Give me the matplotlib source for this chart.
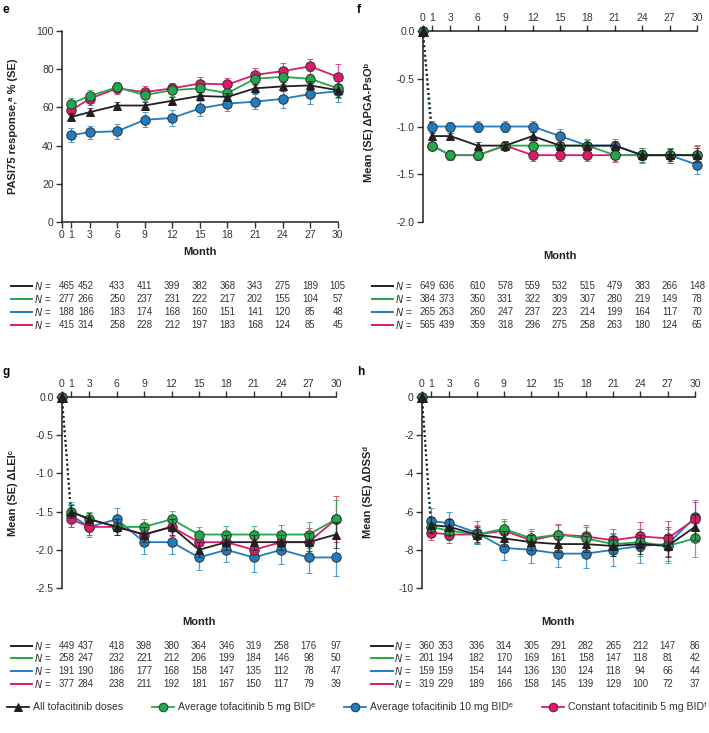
import numpy as np
import matplotlib
matplotlib.use("Agg")
import matplotlib.pyplot as plt
from matplotlib.lines import Line2D
import matplotlib.transforms as mtransforms

plt.rcParams['font.family'] = ['Liberation Sans', 'DejaVu Sans']
plt.rcParams['axes.unicode_minus'] = False

# Data
months = [1, 3, 6, 9, 12, 15, 18, 21, 24, 27, 30]
xticks = [0, 1, 3, 6, 9, 12, 15, 18, 21, 24, 27, 30]

series_names = ["All tofacitinib doses",
                "Average tofacitinib 5 mg BID\u1d49",
                "Average tofacitinib 10 mg BID\u1d49",
                "Constant tofacitinib 5 mg BID\u1da0"]
colors = ["#231f20", "#21a84a", "#1f7cc1", "#e0196b"]
markers = ["^", "o", "o", "o"]

# panel e: PASI75 response %
pasi_mean = [
    [55, 57.5, 61, 61, 63.5, 66, 65.5, 70, 71, 71.5, 69],
    [62, 66, 70.5, 66.5, 69, 70, 67.5, 75, 76, 75, 70],
    [45.5, 47, 47.5, 53.5, 54.5, 59.5, 62, 63, 64.5, 67, 68.5],
    [58.5, 64.5, 70, 68, 70, 72.5, 72, 77, 79, 81.5, 76],
]
pasi_se = [
    [2, 2, 2, 2, 2, 2, 2, 2.5, 2.5, 2.5, 3.5],
    [3, 3, 3, 3, 3, 3, 3, 3.5, 3.5, 4, 5],
    [3.5, 3.5, 4, 4, 4, 4, 4, 4, 5, 5, 5.5],
    [2.5, 3, 3, 3, 3, 3.5, 3.5, 3.5, 4, 4, 6.5],
]
pasi_n = [
    [465, 452, 433, 411, 399, 382, 368, 343, 275, 189, 105],
    [277, 266, 250, 237, 231, 222, 217, 202, 155, 104, 57],
    [188, 186, 183, 174, 168, 160, 151, 141, 120, 85, 48],
    [415, 314, 258, 228, 212, 197, 183, 168, 124, 85, 45],
]

# panel f: change in PGA-PsO
pga_mean = [
    [-1.1, -1.1, -1.2, -1.2, -1.1, -1.2, -1.2, -1.2, -1.3, -1.3, -1.3],
    [-1.2, -1.3, -1.3, -1.2, -1.2, -1.2, -1.2, -1.3, -1.3, -1.3, -1.3],
    [-1.0, -1.0, -1.0, -1.0, -1.0, -1.1, -1.2, -1.2, -1.3, -1.3, -1.4],
    [-1.2, -1.3, -1.3, -1.2, -1.3, -1.3, -1.3, -1.3, -1.3, -1.3, -1.3],
]
pga_se = [
    [0.03, 0.03, 0.04, 0.04, 0.04, 0.04, 0.04, 0.05, 0.05, 0.06, 0.07],
    [0.04, 0.05, 0.05, 0.05, 0.05, 0.06, 0.06, 0.06, 0.07, 0.08, 0.11],
    [0.06, 0.05, 0.06, 0.06, 0.06, 0.07, 0.07, 0.07, 0.08, 0.08, 0.1],
    [0.04, 0.05, 0.05, 0.05, 0.06, 0.06, 0.06, 0.07, 0.07, 0.08, 0.1],
]
pga_n = [
    [649, 636, 610, 578, 559, 532, 515, 479, 383, 266, 148],
    [384, 373, 350, 331, 322, 309, 307, 280, 219, 149, 78],
    [265, 263, 260, 247, 237, 223, 214, 199, 164, 117, 70],
    [565, 439, 359, 318, 296, 275, 258, 263, 180, 124, 65],
]

# panel g: change in LEI
lei_mean = [
    [-1.5, -1.6, -1.7, -1.8, -1.7, -2.0, -1.9, -1.9, -1.9, -1.9, -1.8],
    [-1.5, -1.6, -1.7, -1.7, -1.6, -1.8, -1.8, -1.8, -1.8, -1.8, -1.6],
    [-1.55, -1.7, -1.6, -1.9, -1.9, -2.1, -2.0, -2.1, -2.0, -2.1, -2.1],
    [-1.6, -1.7, -1.7, -1.8, -1.7, -1.9, -1.9, -2.0, -1.9, -1.9, -1.6],
]
lei_se = [
    [0.08, 0.08, 0.1, 0.1, 0.1, 0.1, 0.1, 0.1, 0.1, 0.12, 0.17],
    [0.12, 0.1, 0.1, 0.1, 0.11, 0.1, 0.11, 0.11, 0.12, 0.17, 0.25],
    [0.15, 0.13, 0.15, 0.15, 0.16, 0.17, 0.16, 0.19, 0.18, 0.21, 0.24],
    [0.1, 0.1, 0.1, 0.1, 0.12, 0.12, 0.12, 0.13, 0.13, 0.19, 0.3],
]
lei_n = [
    [449, 437, 418, 398, 380, 364, 346, 319, 258, 176, 97],
    [258, 247, 232, 221, 212, 206, 199, 184, 146, 98, 50],
    [191, 190, 186, 177, 168, 158, 147, 135, 112, 78, 47],
    [377, 284, 238, 211, 192, 181, 167, 150, 117, 79, 39],
]

# panel h: change in DSS
dss_mean = [
    [-6.7, -6.8, -7.2, -7.4, -7.6, -7.7, -7.7, -7.8, -7.7, -7.8, -6.8],
    [-6.8, -7.0, -7.2, -6.9, -7.4, -7.2, -7.4, -7.7, -7.6, -7.8, -7.4],
    [-6.5, -6.6, -7.1, -7.9, -8.0, -8.2, -8.2, -8.0, -7.8, -7.7, -6.3],
    [-7.1, -7.2, -7.2, -7.0, -7.5, -7.2, -7.3, -7.5, -7.3, -7.4, -6.4],
]
dss_se = [
    [0.4, 0.4, 0.4, 0.4, 0.4, 0.4, 0.4, 0.5, 0.5, 0.6, 0.7],
    [0.5, 0.5, 0.5, 0.5, 0.5, 0.5, 0.6, 0.6, 0.7, 0.9, 1.0],
    [0.7, 0.6, 0.6, 0.65, 0.7, 0.7, 0.75, 0.85, 0.9, 0.9, 0.9],
    [0.4, 0.45, 0.45, 0.5, 0.5, 0.55, 0.6, 0.6, 0.75, 0.9, 0.9],
]
dss_n = [
    [360, 353, 336, 314, 305, 291, 282, 265, 212, 147, 86],
    [201, 194, 182, 170, 169, 161, 158, 147, 118, 81, 42],
    [159, 159, 154, 144, 136, 130, 124, 118, 94, 66, 44],
    [319, 229, 189, 166, 158, 145, 139, 129, 100, 72, 37],
]

TXT = "#333333"
draw_order = [2, 3, 1, 0]


def draw_panel(ax, means, ses, from_zero):
    for i in draw_order:
        c = colors[i]
        edge = "#333333" if i > 0 else c
        if from_zero:
            ax.plot([0, months[0]], [0, means[i][0]], ls=":", lw=1.3,
                    color=c, zorder=2, clip_on=False)
            ax.plot([0], [0], marker=markers[i], ms=6.5, color=c,
                    mec=edge, mew=0.7, zorder=5, clip_on=False)
        eb = ax.errorbar(months, means[i], yerr=ses[i], color=c, lw=1.3,
                         ecolor=c, elinewidth=0.9, capsize=2.2, capthick=0.9,
                         marker=markers[i], ms=6.8 if i > 0 else 6.2,
                         mfc=c, mec=edge, mew=0.7,
                         zorder=4 + (i == 0), clip_on=False)
        for part in eb[1] + eb[2]:
            part.set_alpha(0.75)
    ax.set_xlim(0, 30)
    ax.set_xticks(xticks)
    ax.tick_params(colors=TXT, labelsize=7.5, length=4, width=1, labelcolor=TXT, pad=2)
    for s in ax.spines.values():
        s.set_linewidth(1.1)
        s.set_color("#222222")


def draw_table(ax, counts, row_y):
    trans = mtransforms.blended_transform_factory(ax.transData, ax.transAxes)
    shift = {1: -0.5, 3: -0.4}
    for i, row in enumerate(counts):
        y = row_y[i]
        ax.add_line(Line2D([-0.185, -0.108], [y, y], transform=ax.transAxes,
                           color=colors[i], lw=1.4, clip_on=False))
        ax.text(-0.103, y, "$\\mathit{N}$ =", transform=ax.transAxes,
                ha="left", va="center", fontsize=7, color=TXT)
        for m, v in zip(months, row):
            ax.text(m + shift.get(m, 0), y, str(v), transform=trans,
                    ha="center", va="center", fontsize=6.9, color=TXT)


fig = plt.figure(figsize=(7.09, 7.33), dpi=100)
ax_e = fig.add_axes([0.0874, 0.6971, 0.389, 0.2606])
ax_f = fig.add_axes([0.5966, 0.6971, 0.3865, 0.2606])
ax_g = fig.add_axes([0.0874, 0.1978, 0.3865, 0.2606])
ax_h = fig.add_axes([0.5952, 0.1978, 0.385, 0.2606])

# e
draw_panel(ax_e, pasi_mean, pasi_se, False)
ax_e.set_ylim(0, 100)
ax_e.set_yticks([0, 20, 40, 60, 80, 100])
ax_e.spines["top"].set_visible(False)
ax_e.spines["right"].set_visible(False)
ax_e.set_ylabel("PASI75 response,\u1d43 % (SE)", fontsize=8, fontweight="bold", color="#222222")
ax_e.set_xlabel("Month", fontsize=8, fontweight="bold", labelpad=5, color="#222222")

# f, g, h: axis on top
for ax, means, ses, lim, ticks, lab in [
        (ax_f, pga_mean, pga_se, (-2.0, 0.0), [-2.0, -1.5, -1.0, -0.5, 0.0], "Mean (SE) \u0394PGA-PsO\u1d47"),
        (ax_g, lei_mean, lei_se, (-2.5, 0.0), [-2.5, -2.0, -1.5, -1.0, -0.5, 0.0], "Mean (SE) \u0394LEI\u1d9c"),
        (ax_h, dss_mean, dss_se, (-10, 0), [-10, -8, -6, -4, -2, 0], "Mean (SE) \u0394DSS\u1d48")]:
    draw_panel(ax, means, ses, True)
    ax.set_ylim(*lim)
    ax.set_yticks(ticks)
    if ax is not ax_h:
        ax.set_yticklabels(["%.1f" % t for t in ticks])
    ax.xaxis.tick_top()
    ax.spines["bottom"].set_visible(False)
    ax.spines["right"].set_visible(False)
    ax.set_ylabel(lab, fontsize=8, fontweight="bold", color="#222222")
    ax.text(0.5, -0.178, "Month", transform=ax.transAxes, ha="center",
            va="center", fontsize=8, fontweight="bold", color="#222222")

ax_e.yaxis.set_label_coords(-0.16, 0.5)
ax_f.yaxis.set_label_coords(-0.18, 0.52)
ax_g.yaxis.set_label_coords(-0.16, 0.5)
ax_h.yaxis.set_label_coords(-0.18, 0.5)

rows_top = [-0.335, -0.403, -0.471, -0.539]
rows_bot = [-0.304, -0.369, -0.435, -0.500]
draw_table(ax_e, pasi_n, rows_top)
draw_table(ax_f, pga_n, rows_top)
draw_table(ax_g, lei_n, rows_bot)
draw_table(ax_h, dss_n, rows_bot)

# panel letters
for x, y, s in [(0.004, 0.986, "e"), (0.503, 0.986, "f"), (0.004, 0.492, "g"), (0.503, 0.492, "h")]:
    fig.text(x, y, s, fontsize=8.5, fontweight="bold", va="center")

# legend
handles = []
for i in range(4):
    handles.append(Line2D([0], [0], color=colors[i], lw=1.3, marker=markers[i], ms=6.2,
                          mfc=colors[i], mec="#333333" if i > 0 else colors[i], mew=0.7))
fig.legend(handles, series_names, loc="center", bbox_to_anchor=(0.503, 0.035),
           ncol=4, frameon=False, fontsize=7.6, handlelength=2.1, handletextpad=0.4,
           columnspacing=2.7, labelcolor=TXT, borderaxespad=0, borderpad=0)

fig.savefig("out.png", dpi=100)
